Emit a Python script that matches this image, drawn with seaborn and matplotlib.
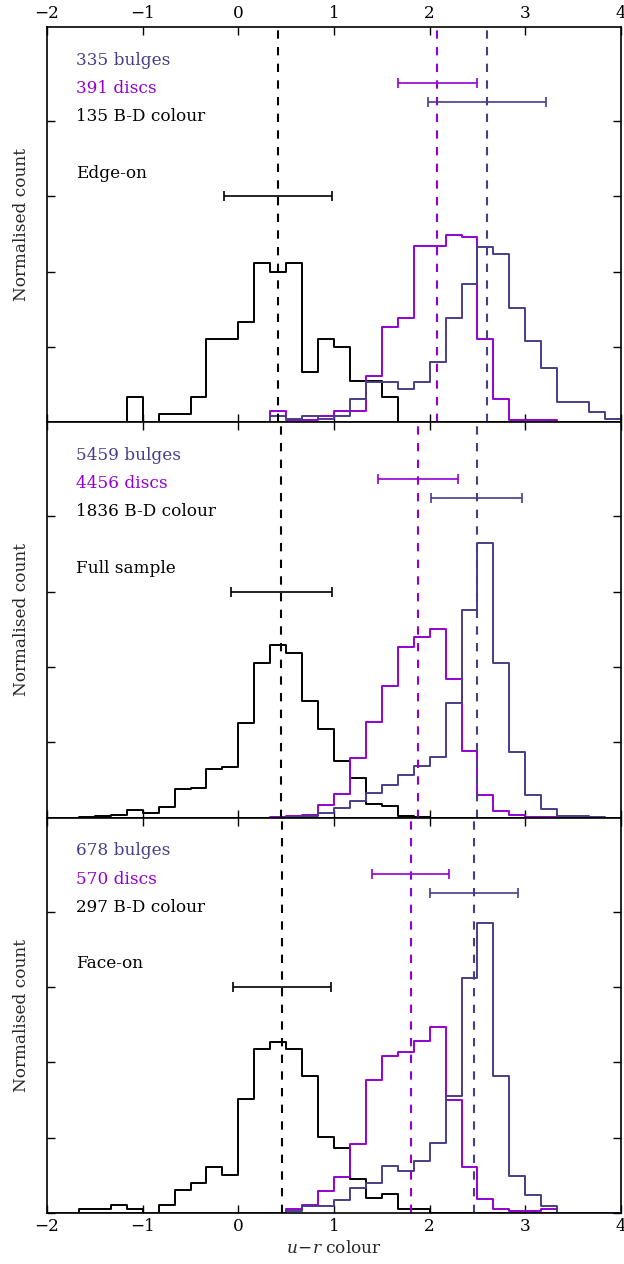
import numpy as np
import matplotlib
matplotlib.use("Agg")
import matplotlib.pyplot as plt
import seaborn as sns
import pandas as pd

# ---------------- data (normalised counts per bin, bins of width 1/6 from -2 to 4) ----------------
bin_edges = np.linspace(-2, 4, 37)
bin_centres = 0.5 * (bin_edges[:-1] + bin_edges[1:])

edge_bd = [0, 0, 0, 0, 0, 0.133, 0, 0.044, 0.044, 0.133, 0.444, 0.444,
           0.533, 0.844, 0.800, 0.844, 0.267, 0.444, 0.400, 0.222, 0.222, 0.133, 0, 0,
           0, 0, 0, 0, 0, 0, 0, 0, 0, 0, 0, 0]
edge_disc = [0, 0, 0, 0, 0, 0, 0, 0, 0, 0, 0, 0,
             0, 0, 0.061, 0.015, 0.015, 0.031, 0.061, 0.061, 0.246, 0.506, 0.552, 0.936,
             0.936, 0.997, 0.982, 0.445, 0.123, 0.015, 0.015, 0.015, 0, 0, 0, 0]
edge_bulge = [0, 0, 0, 0, 0, 0, 0, 0, 0, 0, 0, 0,
              0, 0, 0.036, 0.018, 0.036, 0.018, 0.036, 0.125, 0.215, 0.215, 0.179, 0.215,
              0.322, 0.555, 0.734, 0.931, 0.896, 0.609, 0.430, 0.287, 0.107, 0.107, 0.054, 0.018]

full_bd = [0, 0, 0.004, 0.008, 0.014, 0.043, 0.025, 0.057, 0.151, 0.160, 0.261, 0.267,
           0.501, 0.823, 0.919, 0.875, 0.622, 0.469, 0.299, 0.212, 0.075, 0.064, 0.007, 0.004,
           0, 0, 0, 0, 0, 0, 0, 0, 0, 0, 0, 0]
full_disc = [0, 0, 0, 0, 0, 0, 0, 0, 0, 0, 0, 0,
             0, 0, 0.005, 0.008, 0.012, 0.068, 0.124, 0.318, 0.510, 0.699, 0.907, 0.960,
             1.001, 0.734, 0.356, 0.119, 0.036, 0.012, 0.005, 0.004, 0, 0, 0, 0]
full_bulge = [0, 0, 0, 0, 0, 0, 0, 0, 0, 0, 0, 0,
              0, 0, 0, 0.004, 0.008, 0.027, 0.053, 0.089, 0.133, 0.174, 0.228, 0.276,
              0.320, 0.608, 1.102, 1.458, 0.823, 0.347, 0.119, 0.044, 0.011, 0.007, 0.004, 0]

face_bd = [0, 0, 0.020, 0.020, 0.040, 0.020, 0, 0.040, 0.121, 0.162, 0.242, 0.202,
           0.606, 0.869, 0.909, 0.869, 0.727, 0.404, 0.343, 0.182, 0.081, 0.101, 0.020, 0.020,
           0, 0, 0, 0, 0, 0, 0, 0, 0, 0, 0, 0]
face_disc = [0, 0, 0, 0, 0, 0, 0, 0, 0, 0, 0, 0,
             0, 0, 0, 0.021, 0.042, 0.116, 0.189, 0.368, 0.705, 0.832, 0.853, 0.916,
             0.989, 0.600, 0.242, 0.074, 0.021, 0.011, 0.011, 0.021, 0, 0, 0, 0]
face_bulge = [0, 0, 0, 0, 0, 0, 0, 0, 0, 0, 0, 0,
              0, 0, 0, 0.009, 0.035, 0.035, 0.071, 0.133, 0.159, 0.248, 0.221, 0.274,
              0.372, 0.619, 1.248, 1.540, 0.726, 0.195, 0.097, 0.035, 0, 0, 0, 0]

panel_names = ["Edge-on", "Full sample", "Face-on"]
n_bulges = [335, 5459, 678]
n_discs = [391, 4456, 570]
n_bd = [135, 1836, 297]

# mean colours and spreads: (B-D, discs, bulges)
mean_bd = [0.41, 0.45, 0.46]
err_bd = [0.565, 0.525, 0.513]
mean_disc = [2.08, 1.88, 1.80]
err_disc = [0.41, 0.42, 0.40]
mean_bulge = [2.60, 2.49, 2.46]
err_bulge = [0.62, 0.48, 0.46]

hists_bd = [edge_bd, full_bd, face_bd]
hists_disc = [edge_disc, full_disc, face_disc]
hists_bulge = [edge_bulge, full_bulge, face_bulge]

xticks = [-2, -1, 0, 1, 2, 3, 4]
yticks = [0, 0.4, 0.8, 1.2, 1.6]

FS = 12.2

# ---------------- style ----------------
sns.set_style("ticks")
plt.rcParams.update({
    "font.family": ["DejaVu Serif"],
    "mathtext.fontset": "dejavuserif",
    "font.size": FS,
    "axes.linewidth": 1.2,
    "xtick.direction": "in",
    "ytick.direction": "in",
    "xtick.major.size": 6,
    "ytick.major.size": 6,
    "xtick.major.width": 1.0,
    "ytick.major.width": 1.0,
    "xtick.color": "black",
    "ytick.color": "black",
    "axes.edgecolor": "black",
})

c_bulge = "darkslateblue"
c_disc = "darkviolet"
c_bd = "black"

fig, axes = plt.subplots(3, 1, figsize=(6.24, 12.64), dpi=100, sharex=True)
fig.subplots_adjust(left=47/624, right=621/624, top=1-27/1264, bottom=1-1213/1264, hspace=0)

for i, ax in enumerate(axes):
    for vals, col in [(hists_bd[i], c_bd), (hists_disc[i], c_disc), (hists_bulge[i], c_bulge)]:
        df = pd.DataFrame({"colour": bin_centres, "w": vals})
        sns.histplot(data=df, x="colour", weights="w", bins=list(bin_edges), stat="count",
                     element="step", fill=False, color=col, linewidth=1.4, ax=ax)
    for m, e, yy, col in [(mean_bd[i], err_bd[i], 1.2, c_bd),
                          (mean_disc[i], err_disc[i], 1.8, c_disc),
                          (mean_bulge[i], err_bulge[i], 1.7, c_bulge)]:
        ax.axvline(m, color=col, lw=1.5, linestyle=(0, (4, 4)))
        ax.errorbar([m], [yy], xerr=[e], color=col, lw=1.2, capsize=3.5, capthick=1.2, fmt="none")

    ax.text(-1.7, 1.9, f"{n_bulges[i]} bulges", color=c_bulge, fontsize=FS)
    ax.text(-1.7, 1.75, f"{n_discs[i]} discs", color=c_disc, fontsize=FS)
    ax.text(-1.7, 1.6, f"{n_bd[i]} B-D colour", color=c_bd, fontsize=FS)
    ax.text(-1.7, 1.3, panel_names[i], color="black", fontsize=FS)

    ax.set_xlim(-2, 4)
    ax.set_ylim(0, 2.1)
    ax.set_xticks(xticks)
    ax.set_yticks(yticks)
    ax.set_ylabel("Normalised count", fontsize=FS)
    ax.yaxis.set_label_coords(-0.029, 0.5)
    ax.set_xlabel("")
    ax.tick_params(axis="both", which="both", top=True, right=True, left=True, bottom=True,
                   labelleft=False, labelsize=FS)
    ax.tick_params(axis="x", labelbottom=(i == 2), labeltop=(i == 0))
    for s in ax.spines.values():
        s.set_visible(True)

axes[2].set_xlabel(r"$u\!-\!r$ colour", fontsize=FS)

fig.savefig("out.png", dpi=100)
